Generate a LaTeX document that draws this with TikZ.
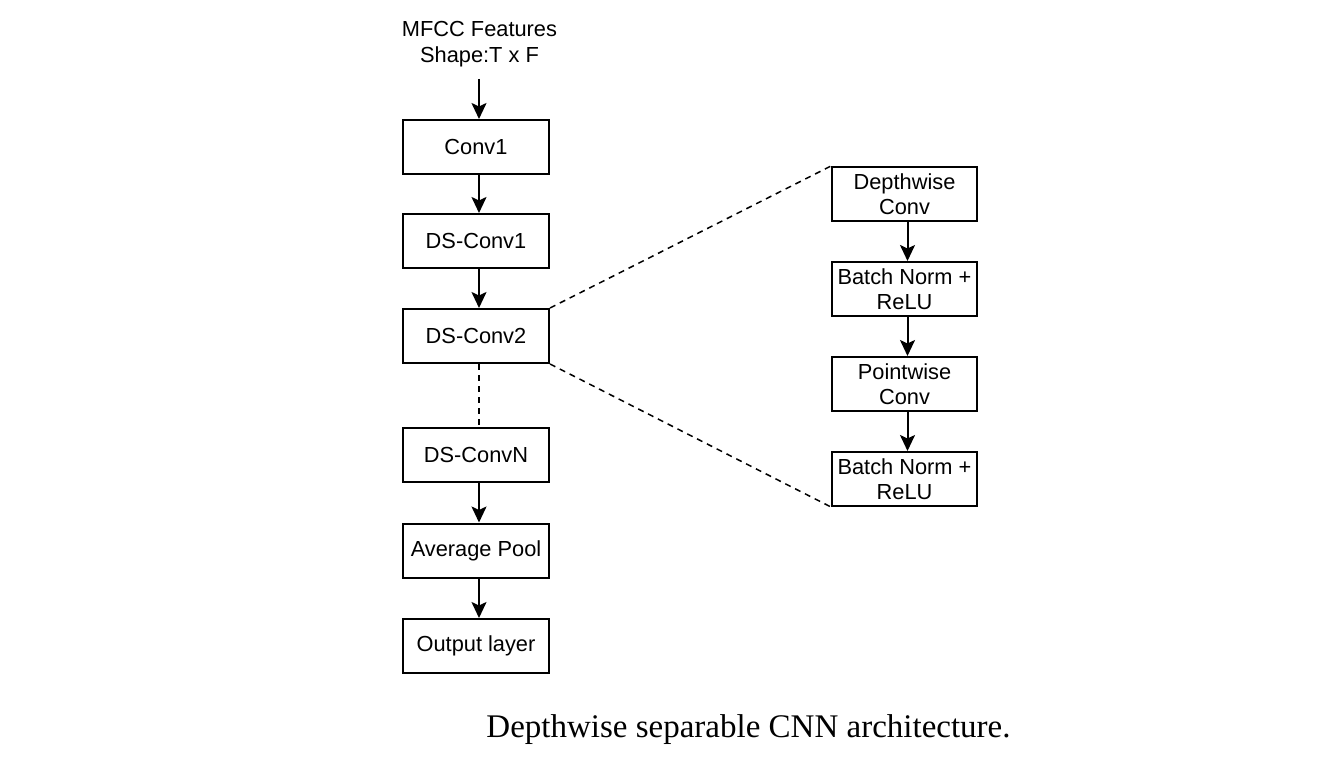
\documentclass[tikz,border=0pt]{standalone}
\usepackage{fontspec}
\setmainfont{Liberation Sans}
\newfontfamily\capfont{Liberation Serif}
\usetikzlibrary{arrows.meta}
\begin{document}
\begin{tikzpicture}[x=1pt,y=-1pt,
  blk/.style={draw,line width=2pt,minimum width=146pt,minimum height=54pt,inner sep=0pt,align=center,font=\fontsize{21.8}{25}\selectfont},
  rblk/.style={blk,minimum width=145pt},
  arr/.style={line width=2pt,-{Stealth[length=16pt,width=15pt,inset=3.5pt]}},
  dsh/.style={line width=1.5pt,dash pattern=on 6pt off 5pt}]
\useasboundingbox (0,0) rectangle (1330,757);
\node[align=center,font=\fontsize{21.8}{25.5}\selectfont] (in) at (479.5,44) {MFCC Features\\Shape:T x F};
\node[blk] (c1) at (476,147) {Conv1};
\node[blk] (d1) at (476,241) {DS-Conv1};
\node[blk] (d2) at (476,336) {DS-Conv2};
\node[blk] (dn) at (476,455) {DS-ConvN};
\node[blk] (ap) at (476,550.5) {Average Pool};
\node[blk] (ol) at (476,646) {Output layer};
\node[rblk] (r1) at (904.5,194) {Depthwise\\Conv};
\node[rblk] (r2) at (904.5,289) {Batch Norm +\\ReLU};
\node[rblk] (r3) at (904.5,384) {Pointwise\\Conv};
\node[rblk] (r4) at (904.5,479) {Batch Norm +\\ReLU};
\coordinate (s) at (479,79);
\draw[arr] (s) -- (s |- c1.north);
\draw[arr] ([xshift=3pt]c1.south) -- ([xshift=3pt]d1.north);
\draw[arr] ([xshift=3pt]d1.south) -- ([xshift=3pt]d2.north);
\draw[dsh] ([xshift=3pt]d2.south) -- ([xshift=3pt]dn.north);
\draw[arr] ([xshift=3pt]dn.south) -- ([xshift=3pt]ap.north);
\draw[arr] ([xshift=3pt]ap.south) -- ([xshift=3pt]ol.north);
\draw[arr] ([xshift=3pt]r1.south) -- ([xshift=3pt]r2.north);
\draw[arr] ([xshift=3pt]r2.south) -- ([xshift=3pt]r3.north);
\draw[arr] ([xshift=3pt]r3.south) -- ([xshift=3pt]r4.north);
\draw[dsh] (d2.north east) -- (r1.north west);
\draw[dsh] (d2.south east) -- (r4.south west);
\node[font=\capfont\fontsize{33}{36}\selectfont,anchor=base] (cap) at (748.5,737) {Depthwise separable CNN architecture.};
\end{tikzpicture}
\end{document}
